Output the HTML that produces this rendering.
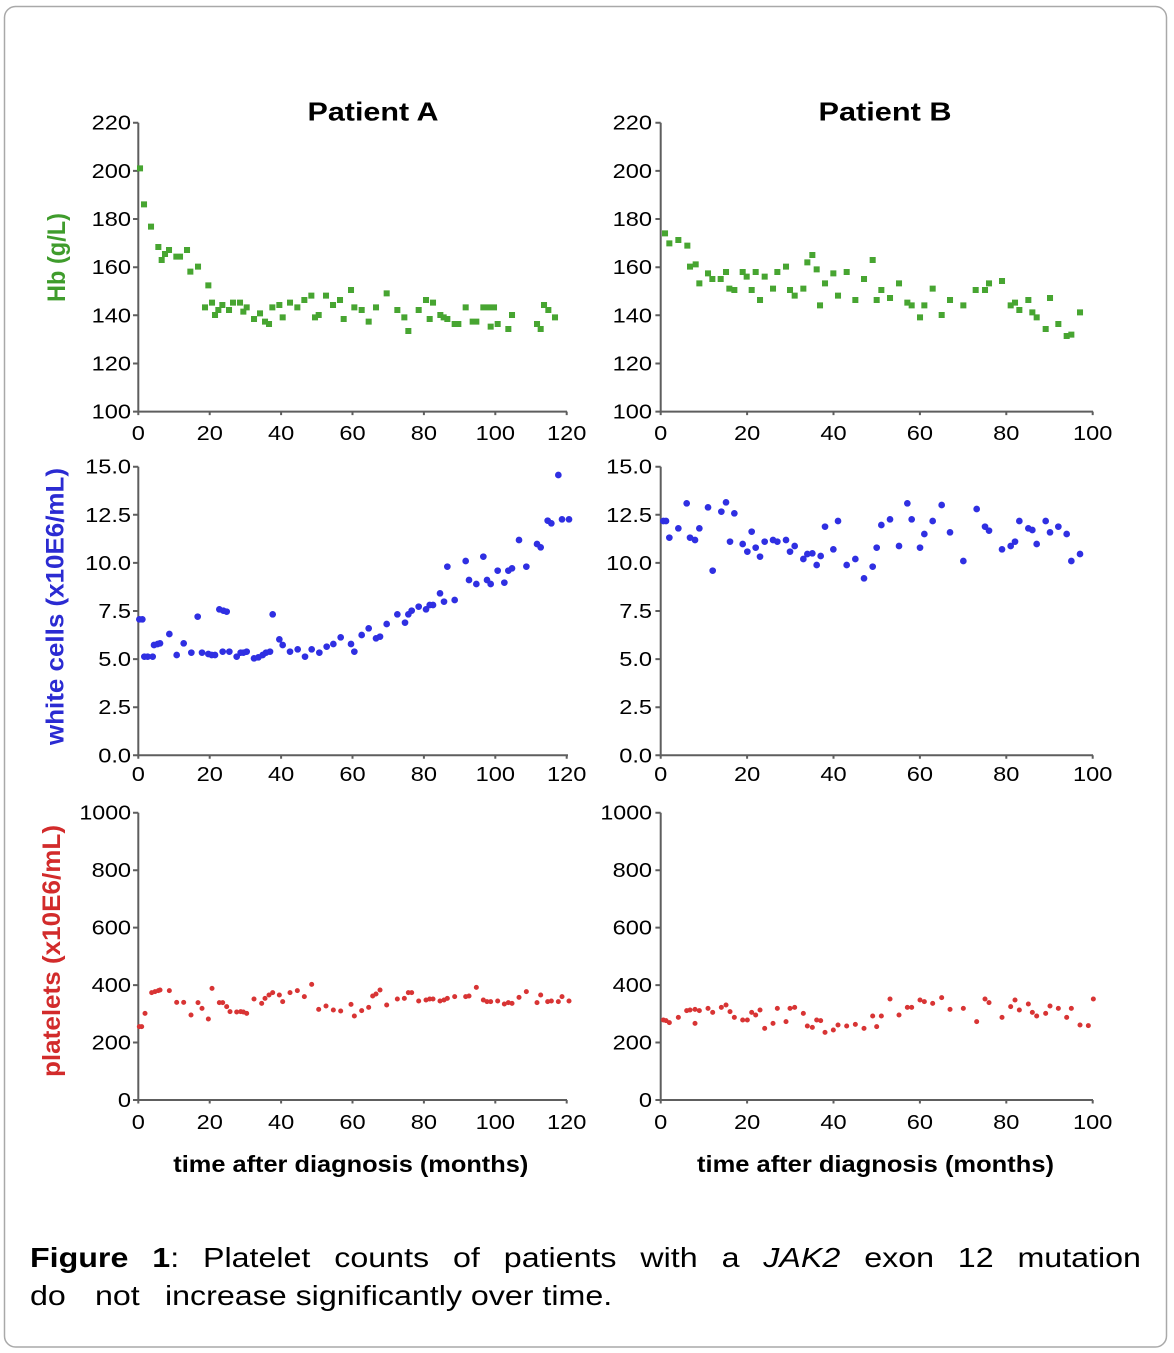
<!DOCTYPE html>
<html><head><meta charset="utf-8"><style>
html,body{margin:0;padding:0;background:#fff;}
svg{display:block;}
text{font-family:"Liberation Sans",Arial,sans-serif;}
</style></head><body>
<svg width="1174" height="1353" viewBox="0 0 1174 1353" xmlns="http://www.w3.org/2000/svg">
<rect x="0" y="0" width="1174" height="1353" fill="#fff"/>
<rect x="4.5" y="6.5" width="1162" height="1340.5" rx="11" ry="11" fill="#fff" stroke="#a9a9a9" stroke-width="1.5"/>

<!-- Titles -->
<text x="373" y="120.7" font-size="26" font-weight="bold" text-anchor="middle" textLength="131" lengthAdjust="spacingAndGlyphs">Patient A</text>
<text x="885" y="120.7" font-size="26" font-weight="bold" text-anchor="middle" textLength="133" lengthAdjust="spacingAndGlyphs">Patient B</text>

<!-- Y axis titles -->
<text transform="translate(65,257.5) rotate(-90)" font-size="25" font-weight="bold" fill="#3f9c2c" text-anchor="middle" textLength="89" lengthAdjust="spacingAndGlyphs">Hb (g/L)</text>
<text transform="translate(63.5,606.5) rotate(-90)" font-size="25" font-weight="bold" fill="#2b2bd2" text-anchor="middle" textLength="277" lengthAdjust="spacingAndGlyphs">white cells (x10E6/mL)</text>
<text transform="translate(60,951) rotate(-90)" font-size="25" font-weight="bold" fill="#d22b2b" text-anchor="middle" textLength="252" lengthAdjust="spacingAndGlyphs">platelets (x10E6/mL)</text>

<!-- Axes -->
<g stroke="#5e5e5e" stroke-width="2" fill="none">
  <!-- A top -->
  <path d="M138.3 122.7V411.6H567"/>
  <path d="M133 122.7h5.3M133 170.9h5.3M133 219h5.3M133 267.2h5.3M133 315.3h5.3M133 363.5h5.3M133 411.6h5.3"/>
  <path d="M138.3 411.6v3.5M209.7 411.6v3.5M281.1 411.6v3.5M352.5 411.6v3.5M423.9 411.6v3.5M495.3 411.6v3.5M566.7 411.6v3.5"/>
  <!-- B top -->
  <path d="M660.7 122.7V411.6H1093"/>
  <path d="M655.4 122.7h5.3M655.4 170.9h5.3M655.4 219h5.3M655.4 267.2h5.3M655.4 315.3h5.3M655.4 363.5h5.3M655.4 411.6h5.3"/>
  <path d="M660.7 411.6v3.5M747.1 411.6v3.5M833.5 411.6v3.5M919.9 411.6v3.5M1006.3 411.6v3.5M1092.7 411.6v3.5"/>
  <!-- A middle -->
  <path d="M138.3 466.7V755.3H568"/>
  <path d="M133 466.7h5.3M133 514.8h5.3M133 562.9h5.3M133 611h5.3M133 659.1h5.3M133 707.2h5.3M133 755.3h5.3"/>
  <path d="M138.3 755.3v3.5M209.7 755.3v3.5M281.1 755.3v3.5M352.5 755.3v3.5M423.9 755.3v3.5M495.3 755.3v3.5M566.7 755.3v3.5"/>
  <!-- B middle -->
  <path d="M660.7 466.7V755.3H1093"/>
  <path d="M655.4 466.7h5.3M655.4 514.8h5.3M655.4 562.9h5.3M655.4 611h5.3M655.4 659.1h5.3M655.4 707.2h5.3M655.4 755.3h5.3"/>
  <path d="M660.7 755.3v3.5M747.1 755.3v3.5M833.5 755.3v3.5M919.9 755.3v3.5M1006.3 755.3v3.5M1092.7 755.3v3.5"/>
  <!-- A bottom -->
  <path d="M138.3 812.7V1100H567"/>
  <path d="M133 812.7h5.3M133 870.2h5.3M133 927.6h5.3M133 985.1h5.3M133 1042.5h5.3M133 1100h5.3"/>
  <path d="M138.3 1100v3.5M209.7 1100v3.5M281.1 1100v3.5M352.5 1100v3.5M423.9 1100v3.5M495.3 1100v3.5M566.7 1100v3.5"/>
  <!-- B bottom -->
  <path d="M660.7 812.7V1100H1093"/>
  <path d="M655.4 812.7h5.3M655.4 870.2h5.3M655.4 927.6h5.3M655.4 985.1h5.3M655.4 1042.5h5.3M655.4 1100h5.3"/>
  <path d="M660.7 1100v3.5M747.1 1100v3.5M833.5 1100v3.5M919.9 1100v3.5M1006.3 1100v3.5M1092.7 1100v3.5"/>
</g>

<!-- Y tick labels -->
<g font-size="20" fill="#000" text-anchor="end">
  <text transform="translate(131,129.7) scale(1.18,1)">220</text>
  <text transform="translate(131,177.9) scale(1.18,1)">200</text>
  <text transform="translate(131,226) scale(1.18,1)">180</text>
  <text transform="translate(131,274.2) scale(1.18,1)">160</text>
  <text transform="translate(131,322.3) scale(1.18,1)">140</text>
  <text transform="translate(131,370.5) scale(1.18,1)">120</text>
  <text transform="translate(131,418.6) scale(1.18,1)">100</text>

  <text transform="translate(652,129.7) scale(1.18,1)">220</text>
  <text transform="translate(652,177.9) scale(1.18,1)">200</text>
  <text transform="translate(652,226) scale(1.18,1)">180</text>
  <text transform="translate(652,274.2) scale(1.18,1)">160</text>
  <text transform="translate(652,322.3) scale(1.18,1)">140</text>
  <text transform="translate(652,370.5) scale(1.18,1)">120</text>
  <text transform="translate(652,418.6) scale(1.18,1)">100</text>

  <text transform="translate(131,473.7) scale(1.18,1)">15.0</text>
  <text transform="translate(131,521.8) scale(1.18,1)">12.5</text>
  <text transform="translate(131,569.9) scale(1.18,1)">10.0</text>
  <text transform="translate(131,618) scale(1.18,1)">7.5</text>
  <text transform="translate(131,666.1) scale(1.18,1)">5.0</text>
  <text transform="translate(131,714.2) scale(1.18,1)">2.5</text>
  <text transform="translate(131,762.3) scale(1.18,1)">0.0</text>

  <text transform="translate(652,473.7) scale(1.18,1)">15.0</text>
  <text transform="translate(652,521.8) scale(1.18,1)">12.5</text>
  <text transform="translate(652,569.9) scale(1.18,1)">10.0</text>
  <text transform="translate(652,618) scale(1.18,1)">7.5</text>
  <text transform="translate(652,666.1) scale(1.18,1)">5.0</text>
  <text transform="translate(652,714.2) scale(1.18,1)">2.5</text>
  <text transform="translate(652,762.3) scale(1.18,1)">0.0</text>

  <text transform="translate(131,819.7) scale(1.16,1)">1000</text>
  <text transform="translate(131,877.2) scale(1.18,1)">800</text>
  <text transform="translate(131,934.6) scale(1.18,1)">600</text>
  <text transform="translate(131,992.1) scale(1.18,1)">400</text>
  <text transform="translate(131,1049.5) scale(1.18,1)">200</text>
  <text transform="translate(131,1107) scale(1.18,1)">0</text>

  <text transform="translate(652,819.7) scale(1.16,1)">1000</text>
  <text transform="translate(652,877.2) scale(1.18,1)">800</text>
  <text transform="translate(652,934.6) scale(1.18,1)">600</text>
  <text transform="translate(652,992.1) scale(1.18,1)">400</text>
  <text transform="translate(652,1049.5) scale(1.18,1)">200</text>
  <text transform="translate(652,1107) scale(1.18,1)">0</text>
</g>

<!-- X tick labels -->
<g font-size="20" fill="#000" text-anchor="middle">
  <text transform="translate(138.3,440) scale(1.18,1)">0</text>
  <text transform="translate(209.7,440) scale(1.18,1)">20</text>
  <text transform="translate(281.1,440) scale(1.18,1)">40</text>
  <text transform="translate(352.5,440) scale(1.18,1)">60</text>
  <text transform="translate(423.9,440) scale(1.18,1)">80</text>
  <text transform="translate(495.3,440) scale(1.18,1)">100</text>
  <text transform="translate(566.7,440) scale(1.18,1)">120</text>

  <text transform="translate(660.7,440) scale(1.18,1)">0</text>
  <text transform="translate(747.1,440) scale(1.18,1)">20</text>
  <text transform="translate(833.5,440) scale(1.18,1)">40</text>
  <text transform="translate(919.9,440) scale(1.18,1)">60</text>
  <text transform="translate(1006.3,440) scale(1.18,1)">80</text>
  <text transform="translate(1092.7,440) scale(1.18,1)">100</text>

  <text transform="translate(138.3,781) scale(1.18,1)">0</text>
  <text transform="translate(209.7,781) scale(1.18,1)">20</text>
  <text transform="translate(281.1,781) scale(1.18,1)">40</text>
  <text transform="translate(352.5,781) scale(1.18,1)">60</text>
  <text transform="translate(423.9,781) scale(1.18,1)">80</text>
  <text transform="translate(495.3,781) scale(1.18,1)">100</text>
  <text transform="translate(566.7,781) scale(1.18,1)">120</text>

  <text transform="translate(660.7,781) scale(1.18,1)">0</text>
  <text transform="translate(747.1,781) scale(1.18,1)">20</text>
  <text transform="translate(833.5,781) scale(1.18,1)">40</text>
  <text transform="translate(919.9,781) scale(1.18,1)">60</text>
  <text transform="translate(1006.3,781) scale(1.18,1)">80</text>
  <text transform="translate(1092.7,781) scale(1.18,1)">100</text>

  <text transform="translate(138.3,1129) scale(1.18,1)">0</text>
  <text transform="translate(209.7,1129) scale(1.18,1)">20</text>
  <text transform="translate(281.1,1129) scale(1.18,1)">40</text>
  <text transform="translate(352.5,1129) scale(1.18,1)">60</text>
  <text transform="translate(423.9,1129) scale(1.18,1)">80</text>
  <text transform="translate(495.3,1129) scale(1.18,1)">100</text>
  <text transform="translate(566.7,1129) scale(1.18,1)">120</text>

  <text transform="translate(660.7,1129) scale(1.18,1)">0</text>
  <text transform="translate(747.1,1129) scale(1.18,1)">20</text>
  <text transform="translate(833.5,1129) scale(1.18,1)">40</text>
  <text transform="translate(919.9,1129) scale(1.18,1)">60</text>
  <text transform="translate(1006.3,1129) scale(1.18,1)">80</text>
  <text transform="translate(1092.7,1129) scale(1.18,1)">100</text>
</g>

<!-- X axis titles -->
<text x="173.3" y="1172" font-size="23" font-weight="bold" textLength="355" lengthAdjust="spacingAndGlyphs">time after diagnosis (months)</text>
<text x="697" y="1172" font-size="23" font-weight="bold" textLength="357" lengthAdjust="spacingAndGlyphs">time after diagnosis (months)</text>

<!-- Hb A -->
<g transform="translate(80,100) scale(0.33333)">
<path fill="none" stroke="#47a531" stroke-width="18" stroke-linecap="square" d="M180 205h.1M192 313h.1M213 380h.1M235 441h.1M245 480h.1M255 462h.1M267 450h.1M289 470h.1M300 470h.1M321 450h.1M331 515h.1M354 500h.1M385 556h.1M375 622h.1M396 608h.1M405 645h.1M415 630h.1M427 615h.1M447 630h.1M459 608h.1M480 608h.1M490 635h.1M500 622h.1M522 657h.1M540 640h.1M555 665h.1M567 672h.1M577 622h.1M598 615h.1M608 652h.1M630 608h.1M652 622h.1M673 600h.1M694 587h.1M705 652h.1M716 645h.1M738 587h.1M759 615h.1M780 600h.1M791 657h.1M813 570h.1M823 622h.1M845 630h.1M866 665h.1M888 622h.1M920 580h.1M952 630h.1M973 652h.1M985 693h.1M1016 630h.1M1038 600h.1M1049 657h.1M1059 608h.1M1081 645h.1M1091 652h.1M1102 657h.1M1124 672h.1M1135 672h.1M1157 622h.1M1178 665h.1M1189 665h.1M1210 622h.1M1221 622h.1M1232 622h.1M1242 622h.1M1232 680h.1M1253 672h.1M1285 687h.1M1296 645h.1M1371 672h.1M1382 687h.1M1392 615h.1M1405 630h.1M1425 652h.1"/>
</g>

<!-- Hb B -->
<g transform="translate(600,100) scale(0.33333)">
<path fill="none" stroke="#47a531" stroke-width="18" stroke-linecap="square" d="M195 400h.1M208 430h.1M235 420h.1M262 437h.1M270 500h.1M287 493h.1M298 550h.1M324 520h.1M337 537h.1M362 537h.1M378 516h.1M388 566h.1M403 570h.1M428 516h.1M440 530h.1M455 570h.1M467 516h.1M480 600h.1M494 530h.1M519 566h.1M532 516h.1M558 500h.1M570 570h.1M584 587h.1M610 566h.1M622 487h.1M637 465h.1M650 508h.1M660 616h.1M675 550h.1M700 520h.1M714 587h.1M740 516h.1M766 600h.1M792 537h.1M818 480h.1M830 600h.1M844 570h.1M870 594h.1M897 550h.1M922 608h.1M935 616h.1M960 652h.1M973 616h.1M998 566h.1M1025 645h.1M1050 600h.1M1090 616h.1M1127 570h.1M1155 570h.1M1167 550h.1M1206 543h.1M1232 616h.1M1245 608h.1M1258 630h.1M1285 600h.1M1297 637h.1M1310 652h.1M1337 687h.1M1350 594h.1M1375 672h.1M1400 708h.1M1414 704h.1M1440 637h.1"/>
</g>

<!-- WBC A -->
<g transform="translate(80,450) scale(0.33333)">
<path fill="none" stroke="#2f2fe2" stroke-width="20" stroke-linecap="round" d="M178 508h.1M187 508h.1M193 620h.1M203 620h.1M218 620h.1M222 585h.1M233 582h.1M240 580h.1M268 552h.1M290 615h.1M311 580h.1M334 608h.1M353 500h.1M366 608h.1M385 612h.1M395 615h.1M405 615h.1M418 478h.1M430 482h.1M440 485h.1M428 605h.1M448 605h.1M470 620h.1M482 608h.1M490 608h.1M500 605h.1M522 625h.1M535 622h.1M548 615h.1M558 608h.1M570 605h.1M578 493h.1M598 568h.1M608 585h.1M630 605h.1M653 598h.1M675 620h.1M695 598h.1M718 608h.1M740 590h.1M760 582h.1M782 562h.1M813 582h.1M823 605h.1M845 555h.1M866 535h.1M888 565h.1M900 560h.1M920 522h.1M952 493h.1M975 518h.1M985 493h.1M995 482h.1M1016 470h.1M1038 478h.1M1049 465h.1M1059 465h.1M1080 430h.1M1092 455h.1M1102 350h.1M1124 450h.1M1157 333h.1M1167 390h.1M1189 402h.1M1210 320h.1M1221 390h.1M1232 402h.1M1253 362h.1M1273 398h.1M1285 362h.1M1296 355h.1M1317 270h.1M1339 350h.1M1371 282h.1M1382 292h.1M1403 212h.1M1414 220h.1M1435 75h.1M1446 208h.1M1467 208h.1"/>
</g>

<!-- WBC B -->
<g transform="translate(600,450) scale(0.33333)">
<path fill="none" stroke="#2f2fe2" stroke-width="20" stroke-linecap="round" d="M190 213h.1M198 213h.1M208 263h.1M235 235h.1M260 160h.1M270 263h.1M285 270h.1M298 235h.1M324 172h.1M338 362h.1M364 185h.1M378 157h.1M390 275h.1M403 190h.1M428 282h.1M442 305h.1M455 245h.1M467 293h.1M480 320h.1M494 275h.1M519 270h.1M532 275h.1M558 270h.1M570 305h.1M584 288h.1M610 327h.1M622 312h.1M637 310h.1M650 345h.1M662 318h.1M675 230h.1M700 298h.1M714 213h.1M740 345h.1M766 327h.1M792 385h.1M818 350h.1M830 293h.1M844 225h.1M870 208h.1M897 288h.1M922 160h.1M935 208h.1M960 293h.1M973 252h.1M998 213h.1M1025 165h.1M1050 247h.1M1090 333h.1M1130 177h.1M1155 230h.1M1167 242h.1M1206 298h.1M1232 288h.1M1245 275h.1M1258 213h.1M1285 235h.1M1297 240h.1M1310 282h.1M1337 213h.1M1350 247h.1M1375 230h.1M1400 252h.1M1414 333h.1M1440 312h.1"/>
</g>

<!-- PLT A -->
<g transform="translate(80,800) scale(0.33333)">
<path fill="none" stroke="#d83434" stroke-width="15" stroke-linecap="round" d="M178 680h.1M185 680h.1M195 640h.1M215 578h.1M225 575h.1M235 572h.1M240 570h.1M268 572h.1M290 607h.1M311 607h.1M333 645h.1M354 608h.1M366 625h.1M385 657h.1M396 565h.1M418 608h.1M428 608h.1M440 620h.1M450 635h.1M470 636h.1M482 635h.1M490 636h.1M500 640h.1M522 597h.1M545 610h.1M555 595h.1M567 585h.1M578 578h.1M598 585h.1M608 605h.1M630 578h.1M652 572h.1M673 590h.1M695 553h.1M716 628h.1M738 618h.1M760 630h.1M782 633h.1M813 613h.1M823 648h.1M845 632h.1M866 622h.1M878 588h.1M888 582h.1M900 570h.1M920 615h.1M952 597h.1M973 595h.1M985 578h.1M995 578h.1M1016 603h.1M1038 600h.1M1049 597h.1M1059 597h.1M1080 603h.1M1092 600h.1M1102 595h.1M1124 590h.1M1157 590h.1M1167 588h.1M1189 562h.1M1210 600h.1M1221 605h.1M1232 605h.1M1253 603h.1M1273 612h.1M1285 608h.1M1296 610h.1M1317 592h.1M1339 575h.1M1371 608h.1M1382 585h.1M1403 605h.1M1414 603h.1M1435 605h.1M1446 590h.1M1467 603h.1"/>
</g>

<!-- PLT B -->
<g transform="translate(600,800) scale(0.33333)">
<path fill="none" stroke="#d83434" stroke-width="15" stroke-linecap="round" d="M190 660h.1M198 662h.1M208 668h.1M235 652h.1M260 632h.1M270 630h.1M285 628h.1M285 670h.1M298 632h.1M324 625h.1M338 637h.1M364 622h.1M378 615h.1M390 635h.1M403 652h.1M428 660h.1M442 660h.1M455 637h.1M467 645h.1M480 630h.1M494 685h.1M519 670h.1M532 625h.1M558 665h.1M570 625h.1M584 622h.1M610 640h.1M622 678h.1M637 682h.1M650 660h.1M662 662h.1M675 697h.1M700 690h.1M714 675h.1M740 678h.1M766 673h.1M792 685h.1M818 648h.1M830 680h.1M844 648h.1M870 597h.1M897 645h.1M922 622h.1M935 622h.1M960 600h.1M973 605h.1M998 610h.1M1025 593h.1M1050 628h.1M1090 625h.1M1130 665h.1M1155 597h.1M1167 608h.1M1206 652h.1M1232 620h.1M1245 600h.1M1258 630h.1M1285 612h.1M1297 637h.1M1310 648h.1M1337 640h.1M1350 618h.1M1375 625h.1M1400 652h.1M1414 625h.1M1440 675h.1M1465 677h.1M1480 597h.1"/>
</g>

<!-- Caption -->
<g font-size="28" fill="#000">
  <text transform="translate(30,1267) scale(1.15,1)" font-weight="bold">Figure</text>
  <text transform="translate(152.3,1267) scale(1.15,1)"><tspan font-weight="bold">1</tspan>:</text>
  <text transform="translate(203,1267) scale(1.15,1)">Platelet</text>
  <text transform="translate(334.3,1267) scale(1.15,1)">counts</text>
  <text transform="translate(453,1267) scale(1.15,1)">of</text>
  <text transform="translate(503.8,1267) scale(1.15,1)">patients</text>
  <text transform="translate(640.4,1267) scale(1.15,1)">with</text>
  <text transform="translate(721.6,1267) scale(1.15,1)">a</text>
  <text transform="translate(763.3,1267) scale(1.15,1)" font-style="italic">JAK2</text>
  <text transform="translate(864.2,1267) scale(1.15,1)">exon</text>
  <text transform="translate(957.8,1267) scale(1.15,1)">12</text>
  <text transform="translate(1017.5,1267) scale(1.15,1)">mutation</text>
  <text transform="translate(30,1305) scale(1.15,1)">do</text>
  <text transform="translate(95,1305) scale(1.15,1)">not</text>
  <text transform="translate(165,1305) scale(1.15,1)">increase significantly over time.</text>
</g>
</svg>
</body></html>
